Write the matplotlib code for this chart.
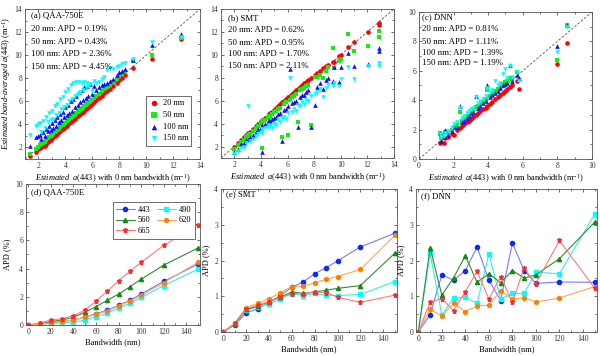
import matplotlib
matplotlib.use("Agg")
import matplotlib.pyplot as plt
from matplotlib.ticker import MultipleLocator


# ── Fonts ────────────────────────────────────────────────────────────

plt.rcParams['font.family'] = ['Liberation Serif', 'DejaVu Serif']
plt.rcParams['mathtext.fontset'] = 'custom'
plt.rcParams['mathtext.rm'] = 'Liberation Serif'
plt.rcParams['mathtext.it'] = 'Liberation Serif:italic'
plt.rcParams['font.size'] = 6


# ── Data: scatter panels (x = estimate with 0 nm bandwidth) ─────────

bw_labels = ["20 nm", "50 nm", "100 nm", "150 nm"]

# (a) QAA-750E
xa = [1.35, 1.8, 2.0, 2.1, 2.2, 2.35, 2.45, 2.55, 2.7, 2.8, 2.9, 3.0, 3.1, 3.2,
      3.3, 3.4, 3.5, 3.6, 3.7, 3.8, 3.9, 4.0, 4.1, 4.2, 4.3, 4.4, 4.5, 4.6,
      4.7, 4.8, 4.9, 5.0, 5.1, 5.2, 5.3, 5.4, 5.5, 5.6, 5.7, 5.8, 5.95, 6.1,
      6.3, 6.5, 6.7, 6.9, 7.1, 7.3, 7.5, 7.8, 8.0, 8.2, 8.4, 9.0, 10.4, 12.6]
a20 = [1.3, 1.6, 1.85, 1.95, 2.0, 2.1, 2.15, 2.3, 2.45, 2.55, 2.65, 2.8, 2.9, 3.0,
       3.1, 3.2, 3.3, 3.4, 3.5, 3.6, 3.7, 3.8, 3.9, 4.0, 4.1, 4.2, 4.3, 4.4,
       4.5, 4.6, 4.7, 4.8, 4.9, 5.0, 5.1, 5.2, 5.3, 5.4, 5.5, 5.6, 5.75, 5.9,
       6.1, 6.3, 6.5, 6.7, 6.9, 7.1, 7.3, 7.6, 7.85, 8.05, 8.3, 8.9, 9.7, 11.4]
a50 = [1.45, 1.9, 2.05, 2.2, 2.3, 2.4, 2.5, 2.65, 2.8, 2.9, 3.0, 3.1, 3.2, 3.3,
       3.45, 3.5, 3.6, 3.75, 3.85, 3.95, 4.05, 4.15, 4.25, 4.35, 4.45, 4.55, 4.65, 4.75,
       4.85, 4.95, 5.05, 5.15, 5.25, 5.35, 5.45, 5.55, 5.65, 5.75, 5.85, 5.95, 6.1, 6.25,
       6.45, 6.65, 6.85, 7.05, 7.25, 7.45, 7.65, 7.95, 8.15, 8.35, 8.55, 9.5, 10.0, 11.5]
a100 = [2.1, 2.9, 2.95, 3.1, 2.7, 3.3, 3.0, 3.6, 3.4, 3.9, 3.5, 4.1, 3.7, 4.4,
        3.9, 4.6, 4.2, 4.9, 4.4, 5.1, 4.6, 5.5, 4.8, 5.7, 5.0, 6.0, 5.2, 6.2,
        5.5, 6.5, 5.7, 6.8, 5.9, 7.0, 6.1, 7.2, 6.3, 7.3, 6.5, 7.5, 6.6, 7.3,
        7.0, 7.2, 7.4, 7.5, 7.6, 7.8, 7.9, 8.3, 8.5, 8.6, 8.8, 9.6, 10.9, 11.8]
a150 = [3.1, 3.9, 4.0, 4.1, 3.3, 4.3, 3.7, 4.6, 4.2, 5.0, 4.4, 5.2, 4.5, 5.6,
        4.8, 5.8, 5.0, 6.2, 5.3, 6.4, 5.5, 6.8, 5.7, 7.1, 6.0, 7.4, 6.2, 7.6,
        6.5, 7.7, 6.6, 7.7, 6.8, 7.6, 7.0, 7.7, 7.2, 7.6, 7.3, 7.5, 6.9, 7.8,
        7.6, 7.7, 7.9, 8.1, 8.7, 8.9, 8.8, 9.0, 9.1, 9.2, 9.3, 9.7, 11.1, 11.6]
apd_a = ["0.19%", "0.43%", "2.36%", "4.45%"]

# (b) SMT
xb = [2.0, 2.3, 2.5, 2.7, 2.9, 3.0, 3.2, 3.4, 3.6, 3.8, 4.0, 4.05, 4.1, 4.3,
      4.5, 4.6, 4.7, 4.85, 5.0, 5.15, 5.3, 5.45, 5.6, 5.75, 5.9, 6.05, 6.2, 6.35,
      6.5, 6.65, 6.8, 6.95, 7.1, 7.25, 7.4, 7.55, 7.8, 8.05, 8.2, 8.45, 8.7, 8.9,
      9.05, 9.4, 9.5, 9.9, 10.05, 10.55, 11.0, 12.05, 12.9, 12.9]
b20 = [2.0, 2.35, 2.6, 2.85, 3.0, 3.2, 3.3, 3.55, 3.8, 4.0, 4.2, 4.25, 4.35, 4.5,
       4.7, 4.8, 4.9, 5.05, 5.2, 5.4, 5.55, 5.7, 5.85, 6.0, 6.15, 6.3, 6.45, 6.6,
       6.75, 6.9, 7.05, 7.2, 7.35, 7.5, 7.6, 7.8, 8.0, 8.25, 8.4, 8.6, 8.85, 9.0,
       9.1, 9.4, 9.35, 9.9, 10.0, 10.7, 11.1, 12.0, 12.8, 12.6]
b50 = [1.75, 2.1, 2.4, 2.6, 2.8, 3.0, 3.1, 3.35, 3.6, 3.8, 3.95, 1.9, 4.2, 4.35,
       4.5, 4.65, 4.6, 4.85, 5.0, 5.1, 5.3, 5.4, 2.8, 5.7, 5.9, 3.0, 6.1, 6.3,
       6.4, 6.6, 4.15, 6.9, 7.0, 7.1, 7.3, 7.4, 3.85, 8.1, 8.1, 8.2, 8.0, 8.6,
       8.9, 10.6, 8.85, 9.5, 9.6, 11.8, 10.3, 10.8, 12.1, 11.6]
b100 = [1.5, 1.8, 2.2, 2.3, 2.6, 2.7, 2.8, 3.0, 3.3, 3.5, 3.6, 1.5, 3.9, 4.0,
        4.1, 4.3, 4.2, 4.4, 4.5, 4.6, 4.8, 4.9, 2.5, 5.2, 5.3, 5.5, 8.8, 5.8,
        5.9, 6.0, 3.7, 6.3, 6.5, 6.5, 6.8, 6.9, 3.7, 5.6, 7.2, 7.5, 7.0, 7.8,
        8.0, 7.7, 8.9, 7.6, 8.9, 10.2, 9.0, 9.2, 10.6, 10.3]
b150 = [1.35, 1.6, 1.9, 2.0, 2.3, 5.5, 2.5, 2.7, 2.9, 3.1, 3.3, 3.2, 3.5, 3.6,
        3.7, 3.9, 3.8, 3.6, 4.0, 3.9, 4.3, 4.1, 4.5, 4.6, 4.4, 4.9, 8.0, 5.0,
        5.3, 5.1, 5.6, 5.5, 5.9, 5.7, 6.1, 6.0, 6.4, 6.6, 6.8, 7.0, 6.3, 7.1,
        7.4, 7.3, 7.5, 7.3, 7.9, 8.9, 7.9, 9.0, 9.3, 9.0]
apd_b = ["0.62%", "0.95%", "1.70%", "2.11%"]

# (c) DNN
xc = [1.2, 1.25, 1.45, 1.5, 1.7, 1.9, 2.0, 2.2, 2.35, 2.5, 2.6, 2.75, 2.9, 3.0,
      3.15, 3.3, 3.4, 3.55, 3.7, 3.85, 3.95, 4.1, 4.25, 4.4, 4.55, 4.7, 4.85, 5.0,
      5.1, 5.25, 5.35, 5.65, 5.8, 8.0, 8.55]
c20 = [1.1, 1.15, 1.1, 1.4, 1.5, 1.7, 1.65, 2.0, 2.1, 2.25, 2.4, 2.5, 2.6, 2.7,
       2.85, 3.0, 3.1, 3.25, 3.4, 3.5, 3.6, 3.75, 3.9, 4.05, 4.2, 4.35, 4.5, 4.6,
       4.75, 4.9, 5.0, 5.3, 4.75, 6.45, 7.9]
c50 = [1.8, 1.4, 1.6, 1.85, 1.75, 2.0, 2.2, 2.3, 3.2, 2.6, 2.75, 2.9, 3.0, 3.2,
       3.3, 3.55, 3.6, 3.75, 3.9, 4.1, 4.7, 4.3, 4.45, 4.6, 4.75, 4.9, 5.1, 5.25,
       5.3, 5.5, 5.4, 5.9, 5.4, 6.75, 9.1]
c100 = [1.75, 1.25, 1.5, 1.95, 1.65, 1.9, 2.15, 2.2, 3.6, 2.5, 2.6, 2.8, 2.95, 3.1,
        3.2, 4.3, 3.5, 3.6, 3.8, 3.95, 5.0, 4.2, 4.35, 4.5, 4.65, 4.8, 5.0, 5.1,
        5.2, 6.4, 5.3, 5.7, 5.5, 7.7, 9.1]
c150 = [1.7, 1.5, 1.55, 1.8, 1.9, 2.1, 2.4, 2.5, 3.5, 2.8, 2.95, 3.1, 3.25, 3.4,
        3.5, 4.2, 3.8, 3.95, 4.1, 4.3, 4.85, 4.55, 4.7, 5.3, 5.0, 5.2, 5.8, 6.1,
        5.5, 6.3, 5.6, 5.95, 5.3, 7.3, 9.0]
apd_c = ["0.81%", "1.11%", "1.39%", "1.19%"]


# ── Data: APD vs bandwidth panels ────────────────────────────────────

bandwidth = [0, 10, 20, 30, 40, 50, 60, 70, 80, 90, 100, 120, 150]

d443 = [0, 0.05, 0.2, 0.25, 0.35, 0.55, 0.8, 1.05, 1.4, 1.75, 2.2, 3.1, 4.3]
d490 = [0, 0.03, 0.1, 0.15, 0.2, 0.35, 0.6, 0.85, 1.2, 1.55, 1.95, 2.8, 3.95]
d560 = [0, 0.05, 0.25, 0.35, 0.55, 0.9, 1.3, 1.75, 2.2, 2.7, 3.25, 4.25, 5.45]
d620 = [0, 0.05, 0.15, 0.25, 0.35, 0.55, 0.75, 1.0, 1.35, 1.7, 2.1, 3.0, 4.45]
d665 = [0, 0.15, 0.35, 0.45, 0.65, 1.05, 1.7, 2.4, 3.15, 3.8, 4.45, 5.65, 7.1]

e443 = [0, 0.2, 0.53, 0.65, 0.82, 1.02, 1.25, 1.4, 1.63, 1.8, 1.99, 2.38, 2.76]
e490 = [0, 0.22, 0.62, 0.7, 0.78, 0.93, 1.07, 1.02, 1.08, 1.03, 1.02, 1.05, 1.41]
e560 = [0, 0.23, 0.63, 0.72, 0.85, 0.98, 1.12, 1.08, 1.12, 1.17, 1.22, 1.3, 2.2]
e620 = [0, 0.25, 0.68, 0.8, 0.93, 1.1, 1.27, 1.28, 1.37, 1.48, 1.55, 1.75, 2.7]
e665 = [0, 0.24, 0.65, 0.75, 0.85, 0.97, 1.07, 1.07, 1.12, 1.1, 0.97, 0.83, 1.03]

f443 = [0, 0.48, 1.6, 1.45, 1.72, 2.38, 1.45, 0.88, 2.49, 1.72, 1.36, 1.4, 1.39]
f490 = [0, 2.2, 0.47, 0.95, 0.97, 0.8, 2.18, 0.92, 1.08, 1.08, 1.67, 1.63, 3.29]
f560 = [0, 2.35, 1.03, 1.52, 2.13, 1.39, 1.63, 1.38, 1.72, 1.51, 1.6, 2.05, 3.07]
f620 = [0, 0.63, 0.45, 0.8, 0.57, 0.73, 0.75, 1.15, 0.92, 0.96, 0.84, 0.95, 1.27]
f665 = [0, 0.84, 0.93, 0.6, 1.13, 1.7, 0.92, 1.55, 0.83, 1.79, 1.35, 2.56, 1.23]

bands = ["443", "490", "560", "620", "665"]


# ── Styles ───────────────────────────────────────────────────────────

sc_colors = ["#ff0000", "#11ee11", "#1010ff", "#00ffff"]
sc_markers = ["o", "s", "^", "v"]

ln_colors = {"443": "#7a7aff", "490": "#33eeee", "560": "#2f8f2f",
             "620": "#ffa55a", "665": "#ff7a7a"}
mk_colors = {"443": "#0a2aff", "490": "#00ffff", "560": "#138a13",
             "620": "#ff8000", "665": "#ff2a2a"}
mk_shapes = {"443": "o", "490": "s", "560": "^", "620": "h", "665": "*"}

XLAB_TOP = r"$Estimated\ \ a$(443) with 0 nm bandwidth (m$^{-1}$)"
YLAB_A = r"$Estimated\ band$-$averaged\ a$(443) (m$^{-1}$)"


def style_axes(ax):
    for s in ax.spines.values():
        s.set_color("#555555")
        s.set_linewidth(0.6)
    ax.tick_params(which="both", direction="in", top=True, right=True,
                   width=0.5, labelsize=5.5, pad=2, colors="#333333")
    ax.tick_params(which="major", length=2.2)
    ax.tick_params(which="minor", length=1.2)


def scatter_panel(ax, x, ys, lim, step, title, apd, txt_x, txt_y):
    ax.plot(lim, lim, ls=(0, (3, 2)), color="#555555", lw=0.6, zorder=2)
    for y, lab, c, m in zip(ys, bw_labels, sc_colors, sc_markers):
        ax.scatter(x, y, s=11, c=c, marker=m, linewidths=0, label=lab, zorder=3)
    ax.set_xlim(lim)
    ax.set_ylim(lim)
    ax.xaxis.set_major_locator(MultipleLocator(step))
    ax.yaxis.set_major_locator(MultipleLocator(step))
    ax.xaxis.set_minor_locator(MultipleLocator(step / 2))
    ax.yaxis.set_minor_locator(MultipleLocator(step / 2))
    style_axes(ax)
    ax.set_xlabel(XLAB_TOP, fontsize=6, labelpad=2)
    ax.text(txt_x, txt_y[0], title, transform=ax.transAxes, fontsize=6.3, va="center")
    for lab, val, ty in zip(bw_labels, apd, txt_y[1:]):
        ax.text(txt_x, ty, f"{lab}: APD = {val}", transform=ax.transAxes,
                fontsize=6.3, va="center")


def line_panel(ax, series, ymax, ystep, title, title_y):
    handles = {}
    for name, vals in zip(bands, series):
        h, = ax.plot(bandwidth, vals, color=ln_colors[name], lw=0.8,
                     marker=mk_shapes[name], ms=3.6 if name == "665" else 3,
                     mfc=mk_colors[name], mec=mk_colors[name], label=name)
        handles[name] = h
    ax.set_xlim(-2, 152)
    ax.set_ylim(0, ymax)
    ax.xaxis.set_major_locator(MultipleLocator(20))
    ax.xaxis.set_minor_locator(MultipleLocator(10))
    ax.yaxis.set_major_locator(MultipleLocator(ystep))
    ax.yaxis.set_minor_locator(MultipleLocator(ystep / 2))
    style_axes(ax)
    ax.set_xlabel("Bandwidth (nm)", fontsize=6, labelpad=2)
    ax.set_ylabel("APD (%)", fontsize=6, labelpad=3)
    ax.text(0.03, title_y, title, transform=ax.transAxes, fontsize=6.3, va="center")
    return handles


# ── Figure ───────────────────────────────────────────────────────────

fig = plt.figure(figsize=(6, 3.56), dpi=100)

ax_a = fig.add_axes([0.0417, 0.5534, 0.2917, 0.4213])
ax_b = fig.add_axes([0.3683, 0.5562, 0.2883, 0.4185])
ax_c = fig.add_axes([0.6983, 0.5534, 0.2883, 0.4129])
ax_d = fig.add_axes([0.0433, 0.0871, 0.2900, 0.3961])
ax_e = fig.add_axes([0.3683, 0.0674, 0.2933, 0.4017])
ax_f = fig.add_axes([0.6933, 0.0674, 0.3017, 0.4017])

scatter_panel(ax_a, xa, [a20, a50, a100, a150], (1, 14), 2, "(a) QAA-750E", apd_a,
              0.034, [0.96, 0.867, 0.78, 0.697, 0.613])
ax_a.set_ylabel(YLAB_A, fontsize=6, labelpad=1)
ax_a.legend(loc="lower right", bbox_to_anchor=(0.975, 0.06), fontsize=6,
            frameon=True, fancybox=False, edgecolor="#333333", framealpha=1,
            handletextpad=0.4, borderpad=0.4, labelspacing=0.45, markerscale=1.2,
            handlelength=1.2).get_frame().set_linewidth(0.5)

scatter_panel(ax_b, xb, [b20, b50, b100, b150], (1, 14), 2, "(b) SMT", apd_b,
              0.04, [0.94, 0.86, 0.775, 0.695, 0.617])

scatter_panel(ax_c, xc, [c20, c50, c100, c150], (0, 10), 2, "(c) DNN", apd_c,
              0.02, [0.966, 0.884, 0.796, 0.721, 0.653])

hd = line_panel(ax_d, [d443, d490, d560, d620, d665], 10, 2, "(d) QAA-750E", 0.943)
order = ["443", "560", "665", "490", "620"]
ax_d.legend([hd[k] for k in order], order, ncol=2, loc="upper right",
            bbox_to_anchor=(0.995, 0.9), fontsize=6, frameon=True, fancybox=False,
            edgecolor="#333333", framealpha=1, handlelength=2.2, handletextpad=0.4,
            columnspacing=0.8, borderpad=0.4, labelspacing=0.35).get_frame().set_linewidth(0.5)

line_panel(ax_e, [e443, e490, e560, e620, e665], 4, 1, "(e) SMT", 0.965)
line_panel(ax_f, [f443, f490, f560, f620, f665], 4, 1, "(f) DNN", 0.95)

fig.savefig("out.png", dpi=100)
